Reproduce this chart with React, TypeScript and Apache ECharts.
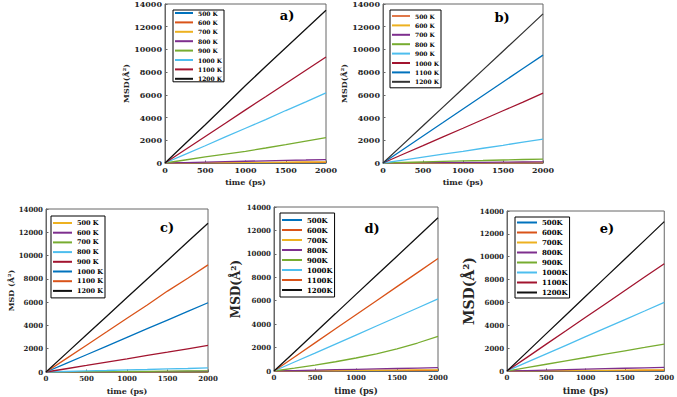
import React, { useEffect, useRef } from "react";
import * as echarts from "echarts";

// time axis (ps)
const time = [0, 250, 500, 750, 1000, 1250, 1500, 1750, 2000];

// legend labels
const tempsSpaced = ["500 K", "600 K", "700 K", "800 K", "900 K", "1000 K", "1100 K", "1200 K"];
const tempsTight = ["500K", "600K", "700K", "800K", "900K", "1000K", "1100K", "1200K"];

// panel a) MSD values (Å²)
const a500 = [0, 3, 6, 8, 11, 13, 16, 18, 20];
const a600 = [0, 6, 12, 18, 25, 31, 37, 44, 50];
const a700 = [0, 12, 25, 38, 50, 62, 75, 88, 100];
const a800 = [0, 40, 80, 115, 155, 195, 235, 265, 300];
const a900 = [0, 265, 530, 790, 1030, 1320, 1620, 1930, 2240];
const a1000 = [0, 760, 1520, 2300, 3060, 3820, 4620, 5380, 6180];
const a1100 = [0, 1160, 2330, 3500, 4680, 5830, 7000, 8170, 9330];
const a1200 = [0, 1690, 3370, 5080, 6820, 8500, 10150, 11800, 13450];

// panel b)
const b500 = [0, 2, 5, 7, 10, 12, 15, 17, 20];
const b600 = [0, 6, 12, 18, 25, 31, 37, 44, 50];
const b700 = [0, 12, 25, 38, 50, 62, 75, 88, 100];
const b800 = [0, 45, 90, 135, 180, 220, 265, 310, 350];
const b900 = [0, 260, 520, 780, 1030, 1300, 1560, 1830, 2100];
const b1000 = [0, 770, 1530, 2300, 3060, 3830, 4600, 5360, 6150];
const b1100 = [0, 1190, 2380, 3560, 4750, 5940, 7130, 8320, 9500];
const b1200 = [0, 1640, 3280, 4920, 6560, 8200, 9840, 11480, 13130];

// panel c)
const c500 = [0, 2, 5, 7, 10, 12, 15, 17, 20];
const c600 = [0, 6, 12, 18, 25, 31, 37, 44, 50];
const c700 = [0, 12, 25, 38, 50, 62, 75, 88, 100];
const c800 = [0, 45, 90, 130, 175, 215, 260, 300, 350];
const c900 = [0, 280, 560, 850, 1130, 1420, 1700, 1990, 2280];
const c1000 = [0, 740, 1480, 2230, 2970, 3720, 4460, 5200, 5950];
const c1100 = [0, 1150, 2300, 3450, 4620, 5760, 6950, 8050, 9200];
const c1200 = [0, 1600, 3200, 4790, 6390, 7980, 9580, 11180, 12780];

// panel d)
const d500 = [0, 2, 5, 7, 10, 12, 15, 17, 20];
const d600 = [0, 6, 12, 18, 25, 31, 37, 44, 50];
const d700 = [0, 12, 25, 38, 50, 62, 75, 88, 100];
const d800 = [0, 35, 75, 110, 145, 180, 215, 250, 290];
const d900 = [0, 240, 500, 790, 1110, 1470, 1890, 2390, 2950];
const d1000 = [0, 770, 1530, 2300, 3070, 3840, 4610, 5380, 6150];
const d1100 = [0, 1200, 2400, 3600, 4800, 6000, 7200, 8400, 9600];
const d1200 = [0, 1630, 3270, 4900, 6540, 8170, 9800, 11440, 13080];

// panel e)
const e500 = [0, 2, 5, 7, 10, 12, 15, 17, 20];
const e600 = [0, 6, 12, 18, 25, 31, 37, 44, 50];
const e700 = [0, 12, 25, 38, 50, 62, 75, 88, 100];
const e800 = [0, 40, 80, 120, 160, 200, 240, 280, 320];
const e900 = [0, 295, 590, 885, 1180, 1480, 1770, 2060, 2360];
const e1000 = [0, 750, 1500, 2250, 3000, 3750, 4500, 5250, 6010];
const e1100 = [0, 1170, 2350, 3520, 4700, 5870, 7050, 8220, 9390];
const e1200 = [0, 1630, 3270, 4900, 6540, 8170, 9800, 11430, 13070];

// axis ticks
const xTicks = { min: 0, max: 2000, interval: 500 };
const yTicks = { min: 0, max: 14000, interval: 2000 };

// styles
const BLUE = "#0072BD";
const ORANGE = "#D95319";
const YELLOW = "#EDB120";
const PURPLE = "#7E2F8E";
const GREEN = "#77AC30";
const CYAN = "#4DBEEE";
const CRIMSON = "#A2142F";
const BLACK = "#111111";

const FONT = "DejaVu Serif";

type Panel = {
  key: string;
  labels: string[];
  values: number[][];
  colors: string[];
  grid: { left: number; top: number; width: number; height: number };
  legend: { left: number; top: number; fontSize: number; lineHeight: number; itemGap: number; padding: number[]; itemWidth: number };
  mark: { text: string; x: number; y: number };
  yName: string;
  yNameSize: number;
  yNameGap: number;
  xNameSize: number;
  xNameGap: number;
  tickSize: number;
};

const panels: Panel[] = [
  {
    key: "a",
    labels: tempsSpaced,
    values: [a500, a600, a700, a800, a900, a1000, a1100, a1200],
    colors: [BLUE, ORANGE, YELLOW, PURPLE, GREEN, CYAN, CRIMSON, BLACK],
    grid: { left: 165, top: 3, width: 161, height: 160 },
    legend: { left: 173, top: 10, fontSize: 6, lineHeight: 6, itemGap: 3.4, padding: [0, 2, 0, 2], itemWidth: 18 },
    mark: { text: "a)", x: 287, y: 15 },
    yName: "MSD(Å²)",
    yNameSize: 8,
    yNameGap: 23,
    xNameSize: 8,
    xNameGap: 15,
    tickSize: 8,
  },
  {
    key: "b",
    labels: tempsSpaced,
    values: [b500, b600, b700, b800, b900, b1000, b1100, b1200],
    colors: ["#E0784A", YELLOW, PURPLE, GREEN, CYAN, CRIMSON, BLUE, "#333333"],
    grid: { left: 383, top: 4, width: 160, height: 159 },
    legend: { left: 390, top: 10, fontSize: 6, lineHeight: 7, itemGap: 2.4, padding: [2.5, 2, 2.5, 2], itemWidth: 18 },
    mark: { text: "b)", x: 502, y: 17 },
    yName: "MSD(Å²)",
    yNameSize: 8,
    yNameGap: 24,
    xNameSize: 8,
    xNameGap: 15,
    tickSize: 8,
  },
  {
    key: "c",
    labels: tempsSpaced,
    values: [c500, c600, c700, c800, c900, c1000, c1100, c1200],
    colors: [YELLOW, PURPLE, GREEN, CYAN, CRIMSON, BLUE, ORANGE, BLACK],
    grid: { left: 46, top: 209, width: 162, height: 163 },
    legend: { left: 51, top: 216, fontSize: 6.5, lineHeight: 8, itemGap: 1.7, padding: [3, 2, 3, 2], itemWidth: 19 },
    mark: { text: "c)", x: 167, y: 227 },
    yName: "MSD (Å²)",
    yNameSize: 8,
    yNameGap: 30,
    xNameSize: 8,
    xNameGap: 15,
    tickSize: 7,
  },
  {
    key: "d",
    labels: tempsTight,
    values: [d500, d600, d700, d800, d900, d1000, d1100, d1200],
    colors: [BLUE, ORANGE, YELLOW, PURPLE, GREEN, CYAN, ORANGE, BLACK],
    grid: { left: 274, top: 207, width: 164, height: 164 },
    legend: { left: 280, top: 213, fontSize: 7, lineHeight: 8, itemGap: 2, padding: [3, 2, 3, 2], itemWidth: 20 },
    mark: { text: "d)", x: 372, y: 228 },
    yName: "MSD(Å²)",
    yNameSize: 12,
    yNameGap: 32,
    xNameSize: 8.5,
    xNameGap: 15,
    tickSize: 7,
  },
  {
    key: "e",
    labels: tempsTight,
    values: [e500, e600, e700, e800, e900, e1000, e1100, e1200],
    colors: [BLUE, ORANGE, YELLOW, PURPLE, GREEN, CYAN, CRIMSON, BLACK],
    grid: { left: 507, top: 211, width: 160, height: 160 },
    legend: { left: 515, top: 217, fontSize: 7, lineHeight: 7, itemGap: 3, padding: [2, 2, 2, 2], itemWidth: 20 },
    mark: { text: "e)", x: 607, y: 228 },
    yName: "MSD(Å²)",
    yNameSize: 14,
    yNameGap: 31,
    xNameSize: 9,
    xNameGap: 15,
    tickSize: 7,
  },
];

const AXIS_COLOR = "#666666";
const TEXT_COLOR = "#262626";

function buildOption() {
  const grid: any[] = [];
  const xAxis: any[] = [];
  const yAxis: any[] = [];
  const series: any[] = [];
  const legend: any[] = [];
  const graphic: any[] = [];
  const plain = (v: number) => String(v);

  panels.forEach((p, i) => {
    grid.push({
      ...p.grid,
      containLabel: false,
      show: true,
      borderColor: AXIS_COLOR,
      borderWidth: 1,
      backgroundColor: "#ffffff",
    });
    xAxis.push({
      type: "value",
      gridIndex: i,
      ...xTicks,
      name: "time (ps)",
      nameLocation: "middle",
      nameGap: p.xNameGap,
      nameTextStyle: { fontFamily: FONT, fontWeight: "bold", fontSize: p.xNameSize, color: TEXT_COLOR },
      axisLine: { show: true, lineStyle: { color: AXIS_COLOR, width: 1 } },
      axisTick: { show: true, inside: true, length: 2.5, lineStyle: { color: AXIS_COLOR } },
      axisLabel: { fontFamily: FONT, fontWeight: "bold", fontSize: p.tickSize, color: TEXT_COLOR, margin: 3, formatter: plain },
      splitLine: { show: false },
    });
    yAxis.push({
      type: "value",
      gridIndex: i,
      ...yTicks,
      name: p.yName,
      nameLocation: "middle",
      nameGap: p.yNameGap,
      nameTextStyle: { fontFamily: FONT, fontWeight: "bold", fontSize: p.yNameSize, color: TEXT_COLOR },
      axisLine: { show: true, lineStyle: { color: AXIS_COLOR, width: 1 } },
      axisTick: { show: true, inside: true, length: 2.5, lineStyle: { color: AXIS_COLOR } },
      axisLabel: { fontFamily: FONT, fontWeight: "bold", fontSize: p.tickSize, color: TEXT_COLOR, margin: 3, formatter: plain },
      splitLine: { show: false },
    });
    const names: string[] = [];
    p.labels.forEach((lab, k) => {
      const name = p.key + ":" + lab;
      names.push(name);
      series.push({
        type: "line",
        name,
        xAxisIndex: i,
        yAxisIndex: i,
        data: time.map((t, j) => [t, p.values[k][j]]),
        showSymbol: false,
        symbol: "none",
        lineStyle: { color: p.colors[k], width: 1.3 },
        itemStyle: { color: p.colors[k] },
        color: p.colors[k],
        z: 2 + k,
      });
    });
    legend.push({
      data: names,
      left: p.legend.left,
      top: p.legend.top,
      orient: "vertical",
      icon: "rect",
      itemWidth: p.legend.itemWidth,
      itemHeight: 2,
      itemGap: p.legend.itemGap,
      itemTextGap: 2,
      padding: p.legend.padding,
      borderColor: "#000000",
      borderWidth: 1,
      borderRadius: 0,
      backgroundColor: "#ffffff",
      selectedMode: false,
      formatter: (n: string) => n.slice(2),
      textStyle: {
        fontFamily: FONT,
        fontWeight: "bold",
        fontSize: p.legend.fontSize,
        lineHeight: p.legend.lineHeight,
        color: "#000000",
      },
    });
    graphic.push({
      type: "text",
      x: p.mark.x,
      y: p.mark.y,
      z: 100,
      style: {
        text: p.mark.text,
        fontFamily: FONT,
        fontWeight: "bold",
        fontSize: 13,
        fill: "#000000",
        align: "center",
        verticalAlign: "middle",
      },
    });
  });

  return {
    animation: false,
    backgroundColor: "#ffffff",
    grid,
    xAxis,
    yAxis,
    series,
    legend,
    graphic,
  };
}

export default function App() {
  const ref = useRef<HTMLDivElement>(null);
  useEffect(() => {
    if (!ref.current) return;
    const chart = echarts.init(ref.current, undefined, { renderer: "svg" });
    chart.setOption(buildOption() as any);
    return () => chart.dispose();
  }, []);
  return (
    <div
      ref={ref}
      style={{ position: "fixed", left: 0, top: 0, width: 677, height: 397, background: "#fff" }}
    />
  );
}
